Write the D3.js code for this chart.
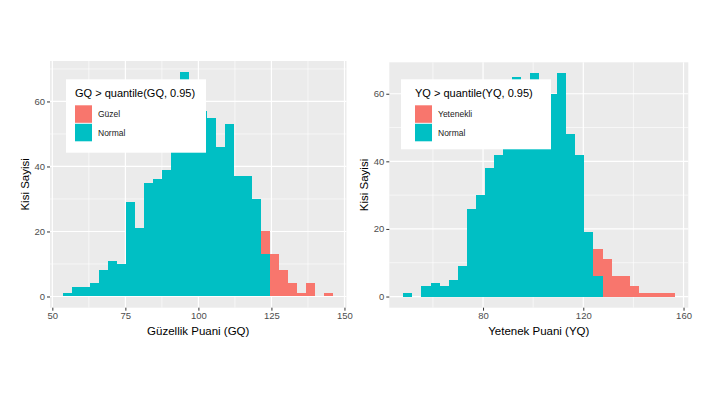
<!DOCTYPE html>
<html>
<head>
<meta charset="utf-8">
<script src="https://cdn.jsdelivr.net/npm/d3@7"></script>
<style>
  body { margin: 0; background: #fff; }
  svg { font-family: "Liberation Sans", Arial, sans-serif; }
</style>
</head>
<body>
<svg width="722" height="394"></svg>
<script>
// histogram counts (30 bins each)
var gqBinStart = 53.77;
var gqBinWidth = 3.077;
var gqNormal = [1,3,3,4,8,11,10,29,21,35,36,39,47,69,62,57,55,46,53,37,37,30,13,0,0,0,0,0,0,0];
var gqHigh   = [0,0,0,0,0,0,0,0,0,0,0,0,0,0,0,0,0,0,0,0,0,0,7,13,8,4,1,4,0,1];
var gqTicks = [50,75,100,125,150];

var yqBinStart = 48.2;
var yqBinWidth = 3.613;
var yqNormal = [1,0,3,4,3,5,9,26,30,38,42,50,65,62,66,63,60,66,48,42,19,6,0,0,0,0,0,0,0,0];
var yqHigh   = [0,0,0,0,0,0,0,0,0,0,0,0,0,0,0,0,0,0,0,0,0,8,11,6,6,3,1,1,1,1];
var yqTicks = [80,120,160];

var countTicks = [0,20,40,60];

var teal = "#00BFC4", red = "#F8766D";
var svg = d3.select("svg");

function panel(opt){
  var x = d3.scaleLinear().domain(opt.xDomain).range([opt.left, opt.right]);
  var y = d3.scaleLinear().domain(opt.yDomain).range([opt.bottom, opt.top]);
  var g = svg.append("g");

  g.append("rect")
    .attr("x", opt.left).attr("y", opt.top)
    .attr("width", opt.right - opt.left).attr("height", opt.bottom - opt.top)
    .attr("fill", "#EBEBEB");

  // minor grid
  opt.xMinor.forEach(function(v){
    g.append("line").attr("x1", x(v)).attr("x2", x(v)).attr("y1", opt.top).attr("y2", opt.bottom)
      .attr("stroke", "#fff").attr("stroke-width", 0.6);
  });
  opt.yMinor.forEach(function(v){
    g.append("line").attr("y1", y(v)).attr("y2", y(v)).attr("x1", opt.left).attr("x2", opt.right)
      .attr("stroke", "#fff").attr("stroke-width", 0.6);
  });
  // major grid
  opt.xTicks.forEach(function(v){
    g.append("line").attr("x1", x(v)).attr("x2", x(v)).attr("y1", opt.top).attr("y2", opt.bottom)
      .attr("stroke", "#fff").attr("stroke-width", 1.2);
  });
  countTicks.forEach(function(v){
    g.append("line").attr("y1", y(v)).attr("y2", y(v)).attr("x1", opt.left).attr("x2", opt.right)
      .attr("stroke", "#fff").attr("stroke-width", 1.2);
  });

  var bins = opt.normal.map(function(n, i){
    return {x0: opt.binStart + i*opt.binWidth, x1: opt.binStart + (i+1)*opt.binWidth, n: n, h: opt.high[i]};
  });

  g.selectAll("rect.n").data(bins.filter(function(d){ return d.n > 0; })).enter().append("rect")
    .attr("class", "n")
    .attr("x", function(d){ return x(d.x0); })
    .attr("width", function(d){ return x(d.x1) - x(d.x0); })
    .attr("y", function(d){ return y(d.n); })
    .attr("height", function(d){ return y(0) - y(d.n); })
    .attr("fill", teal).attr("shape-rendering", "crispEdges");

  g.selectAll("rect.h").data(bins.filter(function(d){ return d.h > 0; })).enter().append("rect")
    .attr("class", "h")
    .attr("x", function(d){ return x(d.x0); })
    .attr("width", function(d){ return x(d.x1) - x(d.x0); })
    .attr("y", function(d){ return y(d.n + d.h); })
    .attr("height", function(d){ return y(d.n) - y(d.n + d.h); })
    .attr("fill", red).attr("shape-rendering", "crispEdges");

  // axes
  var xa = g.append("g").attr("transform", "translate(0," + opt.bottom + ")")
    .call(d3.axisBottom(x).tickValues(opt.xTicks).tickSize(3).tickPadding(2));
  var ya = g.append("g").attr("transform", "translate(" + opt.left + ",0)")
    .call(d3.axisLeft(y).tickValues(countTicks).tickSize(3).tickPadding(2));
  [xa, ya].forEach(function(a){
    a.select(".domain").remove();
    a.selectAll("line").attr("stroke", "#333");
    a.selectAll("text").attr("fill", "#4D4D4D").attr("font-size", "9.5px");
  });

  g.append("text")
    .attr("x", (opt.left + opt.right)/2).attr("y", 335)
    .attr("text-anchor", "middle").attr("font-size", "11.5px").attr("fill", "#000")
    .text(opt.xTitle);
  g.append("text")
    .attr("transform", "translate(" + (opt.left - 21.5) + "," + ((opt.top + opt.bottom)/2) + ") rotate(-90)")
    .attr("text-anchor", "middle").attr("font-size", "11.5px").attr("fill", "#000")
    .text("Kisi Sayisi");

  // legend
  var L = opt.legend;
  var lg = g.append("g");
  lg.append("rect").attr("x", L.x).attr("y", L.y).attr("width", L.w).attr("height", L.h).attr("fill", "#fff");
  lg.append("text").attr("x", L.x + L.pad).attr("y", L.y + 18)
    .attr("font-size", "11px").attr("fill", "#000").text(opt.legendTitle);
  [[red, opt.legendLabels[0]], [teal, opt.legendLabels[1]]].forEach(function(k, i){
    var ky = L.y + 26 + i*18.5;
    lg.append("rect").attr("x", L.x + L.pad).attr("y", ky).attr("width", 17).attr("height", 17.5)
      .attr("fill", k[0]);
    lg.append("text").attr("x", L.x + L.pad + 23).attr("y", ky + 12)
      .attr("font-size", "8.5px").attr("fill", "#1a1a1a").text(k[1]);
  });
}

panel({
  left: 50, right: 346.5, top: 61, bottom: 307.7,
  xDomain: [49.2, 150.7], yDomain: [-3.45, 72.45],
  xTicks: gqTicks, xMinor: [62.5, 87.5, 112.5, 137.5], yMinor: [10, 30, 50, 70],
  binStart: gqBinStart, binWidth: gqBinWidth, normal: gqNormal, high: gqHigh,
  xTitle: "Güzellik Puani (GQ)",
  legendTitle: "GQ > quantile(GQ, 0.95)", legendLabels: ["Güzel", "Normal"],
  legend: {x: 66, y: 79.3, w: 140, h: 73.4, pad: 9}
});

panel({
  left: 389.3, right: 688.3, top: 62.3, bottom: 307.7,
  xDomain: [42.6, 161.9], yDomain: [-3.3, 69.3],
  xTicks: yqTicks, xMinor: [60, 100, 140], yMinor: [10, 30, 50],
  binStart: yqBinStart, binWidth: yqBinWidth, normal: yqNormal, high: yqHigh,
  xTitle: "Yetenek Puani (YQ)",
  legendTitle: "YQ > quantile(YQ, 0.95)", legendLabels: ["Yetenekli", "Normal"],
  legend: {x: 401, y: 79.3, w: 150, h: 70, pad: 14}
});
</script>
</body>
</html>
